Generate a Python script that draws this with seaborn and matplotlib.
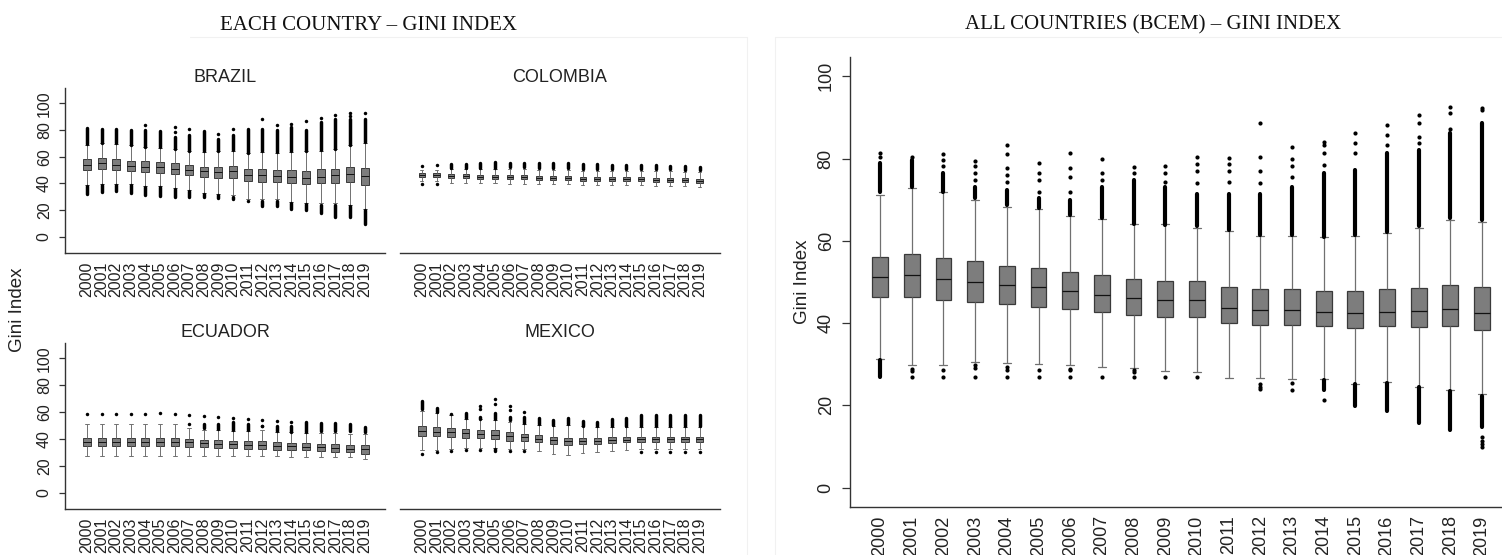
import numpy as np
import pandas as pd
import matplotlib
matplotlib.use("Agg")
import matplotlib.pyplot as plt
import seaborn as sns
from matplotlib.lines import Line2D

nan = np.nan
years = [str(y) for y in range(2000, 2020)]
yticks = [0, 20, 40, 60, 80, 100]

# ---------------- BRAZIL ----------------
br_wlo = [39, 39.5, 39.5, 39.5, 38, 38, 36.5, 35, 33, 32, 31, 28, 28, 28, 26, 25.5, 25, 25, 24, 21]
br_q1 = [50, 50.75, 50, 49.5, 48.5, 48, 47, 46, 45, 44, 44, 42, 41, 41, 40, 39.5, 40, 40, 41, 39]
br_med = [54, 55, 54, 53, 52.5, 52, 51, 50, 49, 48.5, 49, 46, 46, 45.5, 45, 44, 45, 46, 47, 45.5]
br_q3 = [58, 58.75, 58, 57, 56.5, 56, 55, 54, 52.5, 52, 53, 50.5, 50.5, 50, 50, 49.5, 50.5, 51, 52.5, 51.5]
br_whi = [69, 70, 69.5, 68.5, 67, 66.5, 65.5, 64, 63.5, 64, 64.5, 62.5, 63.5, 63, 63.5, 64, 64.5, 65.5, 68.5, 70.5]
br_up_from = [69.5, 70.5, 70, 69, 67.5, 67, 66, 64.5, 64, 64.5, 65, 63, 64, 63.5, 64, 64.5, 65, 66, 69, 71]
br_up_to = [81.5, 80.5, 81, 80, 80, 79.5, 75, 76, 79, 73, 76, 80.5, 81, 80, 82, 80, 86, 88, 88, 88]
br_up_dots = [[], [], [], [], [84], [], [78.5, 82], [80.5], [], [77], [80.5], [], [88.5], [83.5],
              [84.5], [86.75], [88.75], [91], [90.5, 92.5], [92.5]]
br_dn_from = [38, 38.75, 38.75, 38.75, 37, 37, 35.5, 34, 32, 31, 30, nan, 27, 27, 25, 24.5, 24, 23.75, 23, 20]
br_dn_to = [32, 33.75, 34, 33, 31.5, 30.5, 30, 29.5, 29.5, 29, 28.5, nan, 23, 23, 21, 20, 18, 15, 14.5, 9.5]
br_dn_dots = [[], [], [], [], [], [], [], [], [], [], [], [26.75], [], [], [], [], [], [], [], []]

# ---------------- COLOMBIA ----------------
co_med = [46, 46, 45.3, 45.3, 45, 45, 44.8, 44.8, 44.3, 44.3, 43.8, 43.5, 43.3, 43, 43, 43, 42.8, 42.5, 42.5, 42]
co_q1 = [44.5, 44.5, 43.8, 43.8, 43.5, 43.5, 43.3, 43.3, 42.8, 42.8, 42.3, 42, 41.8, 41.5, 41.5, 41.5, 41.3, 41, 41, 40.5]
co_q3 = [47.5, 47.5, 46.8, 46.8, 46.5, 46.5, 46.3, 46.3, 45.8, 45.8, 45.3, 45, 44.8, 44.5, 44.5, 44.5, 44.3, 44, 44, 43.5]
co_wlo = [42, 42, 40, 40, 40, 40, 39.8, 39.8, 39.5, 39.5, 39.3, 39, 39, 38.8, 38.5, 38.5, 38.3, 38, 37.8, 37.5]
co_whi = [50, 50, 50.5, 50.5, 50.5, 50.5, 50.5, 50.5, 50, 50, 50, 49.5, 49.5, 49.5, 49.5, 49, 49, 49, 48.5, 48.5]
co_up_from = [nan, nan, 51.5, 51.5, 51.5, 51.5, 52, 52, 51.5, 51.5, 51.5, 51, 51, 51, 51, 50.5, 50.5, 50.5, 50, 50]
co_up_to = [nan, nan, 54.5, 54.5, 55, 56, 55.5, 55.5, 55.5, 55, 55, 54.5, 54.5, 54, 54, 53.5, 53.5, 53, 53, 52.5]
co_up_dots = [[53], [53.5], [], [], [], [], [], [], [], [], [], [], [], [], [], [], [], [], [], []]
co_dn_from = [nan] * 20
co_dn_to = [nan] * 20
co_dn_dots = [[39.3], [39.8], [], [], [], [], [], [], [], [], [], [], [], [], [], [], [], [], [], []]

# ---------------- ECUADOR ----------------
ec_med = [37.75, 37.75, 37.75, 37.75, 37.75, 37.75, 37.75, 37.5, 37, 36.5, 36, 35.75, 35.75, 35, 34.5, 34.25, 33.75, 33.25, 32.75, 32.25]
ec_q1 = [34.5, 34.5, 34.5, 34.5, 34.5, 34.5, 34.5, 34, 34, 33.5, 33, 32.75, 32.5, 32, 31.5, 31.5, 31, 30.5, 30, 29]
ec_q3 = [40.75, 40.75, 40.75, 40.75, 40.75, 40.75, 40.75, 40, 39.5, 39, 38.5, 38.25, 38.25, 37.5, 37, 37, 36.5, 36, 35.5, 35.5]
ec_wlo = [27.25, 27.25, 27.25, 27.25, 27.25, 27.25, 27.25, 27.25, 27.25, 27.25, 27.25, 27.25, 27.25, 27, 26.75, 26.5, 26.5, 26.25, 26.25, 25]
ec_whi = [51.5, 51.5, 51.5, 51.5, 51.5, 51.5, 51.5, 48.5, 47, 46.5, 46, 46, 47, 45, 45, 44.5, 44.5, 44.5, 44, 44]
ec_up_from = [nan, nan, nan, nan, nan, nan, nan, nan, 48.25, 47.75, 46.5, 46.5, nan, 45.75, 45.5, 45.5, 45.75, 45.75, 45.75, 45]
ec_up_to = [nan, nan, nan, nan, nan, nan, nan, nan, 51, 51.25, 52.5, 51.5, nan, 50, 49.5, 52.5, 52, 52, 51.25, 48.75]
ec_up_dots = [[58.5], [58.75], [58.75], [58.75], [58.75], [59.25], [58.75], [58, 51], [57], [56.25], [55.75],
              [55], [54.25, 50, 49.5], [53.25], [52.75], [], [], [], [], []]
ec_dn_from = [nan] * 20
ec_dn_to = [nan] * 20
ec_dn_dots = [[] for _ in range(20)]

# ---------------- MEXICO ----------------
mx_med = [46.25, 45.5, 45, 44.25, 43.5, 43, 42, 41.25, 40.25, 39.25, 38.5, 38.5, 38.75, 39.25, 39.5, 39.75, 39.75, 39.75, 39.75, 39.75]
mx_q1 = [42, 42, 41.5, 41, 40.5, 40, 38.75, 38.5, 37.5, 36.5, 35.5, 36, 36.5, 37, 37.5, 37.75, 37.75, 37.75, 37.75, 37.75]
mx_q3 = [49.5, 49, 48.25, 47.5, 47, 46.5, 45, 44, 43, 41.5, 41, 41, 41, 41.5, 41.5, 41.75, 41.75, 41.75, 41.75, 41.75]
mx_wlo = [32, 32, 32.5, 33, 33, 33, 32.75, 32.5, 31.25, 29, 28, 29.25, 30, 31, 31.75, 32.5, 32.5, 32.5, 32.5, 32.5]
mx_whi = [60.75, 59.5, 57.5, 55, 54.5, 54, 53, 51.5, 50.5, 50, 50.5, 49.5, 49, 49, 49, 49, 49, 49, 49, 49]
mx_up_from = [62, 60, nan, 55.75, 55, 55, 54, 52, 51.5, 50.75, 51.25, 50, 49.5, 49.5, 49.5, 49.5, 49.5, 49.5, 49.5, 49.5]
mx_up_to = [68.25, 62.75, nan, 59.5, 56.25, 59.5, 56.5, 56.5, 55.5, 54, 55.5, 53.25, 52.5, 54.5, 55.75, 57.5, 57.5, 57.5, 57.5, 57.5]
mx_up_dots = [[], [], [58.75], [], [62, 64.5], [65.75, 69.75], [61.5, 64.5], [60], [], [], [], [], [], [], [], [], [], [], [], []]
mx_dn_from = [nan, nan, nan, nan, nan, 32.25, nan, nan, nan, nan, nan, nan, nan, nan, nan, nan, nan, nan, nan, nan]
mx_dn_to = [nan, nan, nan, nan, nan, 30.75, nan, nan, nan, nan, nan, nan, nan, nan, nan, nan, nan, nan, nan, nan]
mx_dn_dots = [[29], [30.25], [31], [31.75], [31.75], [], [31.25], [31.25], [], [], [], [], [], [], [],
              [30.5], [30.5], [30.5], [30.5], [30.5]]

# ---------------- ALL COUNTRIES (BCEM) ----------------
al_med = [51.3, 51.6, 50.8, 49.9, 49.2, 48.8, 47.9, 46.8, 46.0, 45.6, 45.6, 43.7, 43.3, 43.1, 42.7, 42.5, 42.7, 42.9, 43.4, 42.5]
al_q3 = [56.1, 56.9, 55.9, 55.0, 53.9, 53.4, 52.5, 51.7, 50.7, 50.2, 50.2, 48.8, 48.2, 48.2, 47.8, 47.8, 48.2, 48.6, 49.3, 48.8]
al_q1 = [46.3, 46.3, 45.6, 45.2, 44.6, 44.0, 43.4, 42.8, 42.0, 41.4, 41.4, 40.0, 39.6, 39.5, 39.2, 38.8, 39.2, 39.0, 39.2, 38.4]
al_whi = [71.1, 72.9, 71.8, 69.9, 68.2, 67.7, 66.0, 65.2, 64.1, 64.1, 63.1, 62.4, 61.2, 61.2, 60.9, 61.2, 61.8, 63.1, 65.1, 64.7]
al_wlo = [31.3, 29.8, 29.8, 30.6, 30.2, 30.0, 29.8, 29.4, 29.0, 28.3, 28.2, 26.6, 26.6, 26.3, 26.3, 25.2, 25.7, 24.5, 23.7, 22.7]
al_up_from = [72, 73.2, 72, 70.3, 68.7, 67.9, 66.3, 65.5, 64.2, 63.9, 63.5, 62.6, 61.4, 61.4, 61, 61.4, 62.2, 63.5, 65.5, 65]
al_up_to = [79, 79.7, 76.4, 73.2, 72.4, 70.3, 69.9, 73.2, 74.8, 73.2, 71.5, 71.5, 71.5, 73.2, 76.4, 77.3, 81.3, 82, 86.2, 88.6]
al_up_dots = [[80.3, 81.3], [80.3], [78.1, 79.7, 81], [74.8, 76.4, 78.1, 79.5], [74.4, 76, 77.7, 81.2, 83.3],
              [71.9, 74.8, 76.4, 79], [71.8, 75.6, 77.7, 81.3], [74.8, 76.6, 79.8], [76.4, 78], [74.4, 76.4, 78.2],
              [74.1, 76.9, 78.6, 80.3], [74.4, 77.1, 78.8, 80.1], [74, 77.1, 80.4, 88.6], [75.6, 78.1, 79.9, 82.9],
              [78.5, 81.3, 83.3, 84.1], [81.3, 83.8, 86.2], [83.4, 85.8, 88.1], [83.7, 85.3, 88.6, 90.7],
              [87.2, 91, 92.6], [91.8, 92.2]]
al_dn_from = [31, nan, nan, nan, nan, nan, nan, nan, nan, nan, nan, nan, nan, nan, 26.2, 25.2, 25.5, 24.4, 23.5, 22.4]
al_dn_to = [26.8, nan, nan, nan, nan, nan, nan, nan, nan, nan, nan, nan, nan, nan, 23.7, 19.8, 18.7, 15.6, 13.9, 14.7]
al_dn_dots = [[], [28.9, 28.3, 26.8], [28.7, 26.8], [29.8, 29.0, 26.8], [29.4, 28.7, 26.8], [28.7, 26.8],
              [28.9, 28.5, 26.8], [26.8], [28.7, 28.2, 26.8], [26.8], [26.8], [], [25.2, 24.4, 23.9], [25.4, 23.7],
              [21.4], [], [], [], [], [12.3, 11.4, 10.6, 9.8]]

# ---------------- style ----------------
sns.set_style("ticks")
plt.rcParams["font.family"] = ["Liberation Sans", "DejaVu Sans"]
BOX = "#7d7d7d"
EDGE = "#3a3a3a"
WHISK = "#707070"
AXC = "#333333"

W, H = 1502, 555
fig = plt.figure(figsize=(W / 100, H / 100), dpi=100)


def fr(x0, top, x1, bottom):
    return [x0 / W, 1 - bottom / H, (x1 - x0) / W, (bottom - top) / H]


def panel(ax, wlo, q1, med, q3, whi, up_from, up_to, up_dots, dn_from, dn_to, dn_dots,
          width, dot, lw, xlim, ylim, show_y, tick_fs, tick_len, title=None, title_fs=13):
    rows = []
    for yr, a, b, c, d, e in zip(years, wlo, q1, med, q3, whi):
        for v in (a, b, c, d, e):
            rows.append((yr, v))
    df = pd.DataFrame(rows, columns=["year", "gini"])
    sns.boxplot(data=df, x="year", y="gini", order=years, whis=(0, 100), width=width,
                color=BOX, linecolor=EDGE, linewidth=lw, showfliers=False, saturation=1,
                whiskerprops={"color": WHISK}, capprops={"color": WHISK},
                medianprops={"color": "#111111"}, ax=ax)
    # dense outlier columns (stacked dots)
    for frm, to in ((up_from, up_to), (dn_from, dn_to)):
        idx = [i for i in range(len(years)) if not np.isnan(frm[i])]
        if idx:
            ax.vlines([i for i in idx], [frm[i] for i in idx], [to[i] for i in idx],
                      colors="black", linewidth=dot, capstyle="round", zorder=4)
    # separate outlier dots
    drows = [(yr, v) for yr, lst in zip(years, up_dots) for v in lst]
    drows += [(yr, v) for yr, lst in zip(years, dn_dots) for v in lst]
    if drows:
        dd = pd.DataFrame(drows, columns=["year", "gini"])
        sns.stripplot(data=dd, x="year", y="gini", order=years, jitter=False, color="black",
                      size=dot, linewidth=0, ax=ax, zorder=4)
    ax.set_xlim(*xlim)
    ax.set_ylim(*ylim)
    ax.set_xlabel("")
    ax.set_ylabel("")
    ax.set_xticks(range(len(years)))
    ax.set_xticklabels(years, rotation=90, fontsize=tick_fs, color="#222222")
    ax.tick_params(axis="x", length=0, pad=6)
    for s in ("top", "right"):
        ax.spines[s].set_visible(False)
    ax.spines["bottom"].set_color(AXC)
    ax.spines["bottom"].set_linewidth(1.0)
    if show_y:
        ax.set_yticks(yticks)
        ax.set_yticklabels([str(t) for t in yticks], rotation=90, va="center",
                           fontsize=tick_fs, color="#222222")
        ax.tick_params(axis="y", length=tick_len, width=0.9, color=AXC, pad=5)
        ax.spines["left"].set_color(AXC)
        ax.spines["left"].set_linewidth(1.0)
    else:
        ax.spines["left"].set_visible(False)
        ax.set_yticks([])
    if title:
        ax.set_title(title, fontsize=title_fs, pad=4, color="#222222")


ylim_small = (-12.2, 111.5)
xlim_small = (-1.5, 20.4)

ax_br = fig.add_axes(fr(65, 88, 385, 253))
panel(ax_br, br_wlo, br_q1, br_med, br_q3, br_whi, br_up_from, br_up_to, br_up_dots,
      br_dn_from, br_dn_to, br_dn_dots, 0.55, 2.5, 0.7, xlim_small, ylim_small, True, 11.5, 4.5, "BRAZIL")

ax_co = fig.add_axes(fr(400, 88, 720, 253))
panel(ax_co, co_wlo, co_q1, co_med, co_q3, co_whi, co_up_from, co_up_to, co_up_dots,
      co_dn_from, co_dn_to, co_dn_dots, 0.42, 2.5, 0.7, xlim_small, ylim_small, False, 11.5, 4.5, "COLOMBIA")

ax_ec = fig.add_axes(fr(65, 343, 385, 509))
panel(ax_ec, ec_wlo, ec_q1, ec_med, ec_q3, ec_whi, ec_up_from, ec_up_to, ec_up_dots,
      ec_dn_from, ec_dn_to, ec_dn_dots, 0.55, 2.5, 0.7, xlim_small, ylim_small, True, 11.5, 4.5, "ECUADOR")

ax_mx = fig.add_axes(fr(400, 343, 720, 509))
panel(ax_mx, mx_wlo, mx_q1, mx_med, mx_q3, mx_whi, mx_up_from, mx_up_to, mx_up_dots,
      mx_dn_from, mx_dn_to, mx_dn_dots, 0.5, 2.5, 0.7, xlim_small, ylim_small, False, 11.5, 4.5, "MEXICO")

ax_al = fig.add_axes(fr(850, 57, 1502, 507))
panel(ax_al, al_wlo, al_q1, al_med, al_q3, al_whi, al_up_from, al_up_to, al_up_dots,
      al_dn_from, al_dn_to, al_dn_dots, 0.5, 3.0, 0.9, (-0.95, 19.63), (-4.7, 104.7), True, 13, 6)
ax_al.set_ylabel("Gini Index", fontsize=13.5, labelpad=5, color="#222222")

fig.text(18 / W, 1 - 310 / H, "Gini Index", rotation=90, ha="center", va="center",
         fontsize=13.5, color="#222222")

fig.text(368.5 / W, 1 - 25 / H, "EACH COUNTRY – GINI INDEX", ha="center", va="center",
         fontsize=15, family=["Liberation Serif", "DejaVu Serif"], color="#111111")
fig.text(1153.5 / W, 1 - 25 / H, "ALL COUNTRIES (BCEM) – GINI INDEX", ha="center", va="center",
         fontsize=15, family=["Liberation Serif", "DejaVu Serif"], color="#111111")

# faint frames of the two image blocks
for xs, ys in (([190, 747], [37, 37]), ([747, 747], [37, 555]), ([775, 1502], [37, 37]), ([775, 775], [37, 555])):
    fig.add_artist(Line2D([x / W for x in xs], [1 - y / H for y in ys], transform=fig.transFigure,
                          color="#f1f1f1", linewidth=0.8))

fig.savefig("out.png", dpi=100)
